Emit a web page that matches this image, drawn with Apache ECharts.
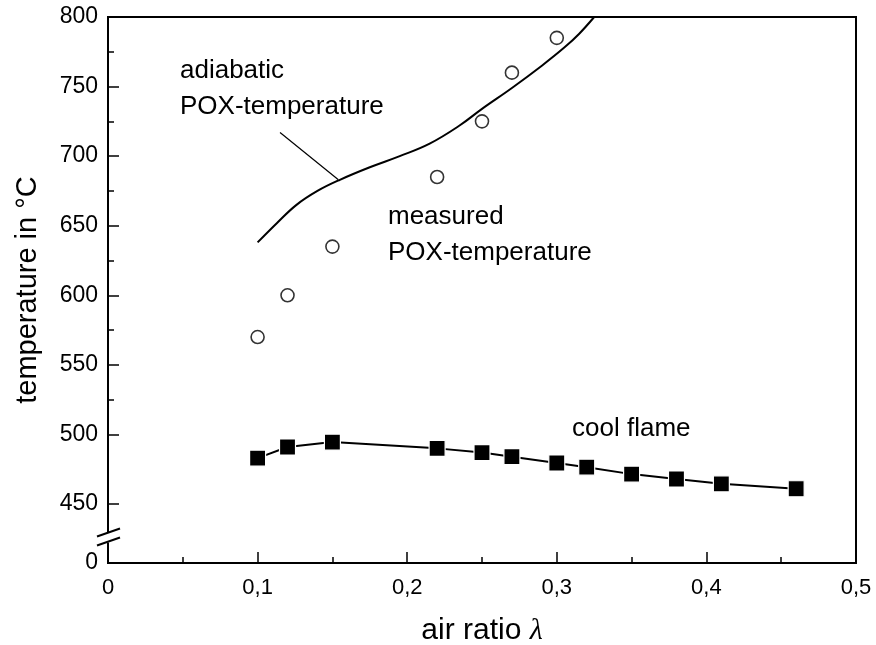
<!DOCTYPE html>
<html>
<head>
<meta charset="utf-8">
<script src="https://cdn.jsdelivr.net/npm/echarts@6/dist/echarts.min.js"></script>
<style>html,body{margin:0;padding:0;background:#fff}#c{width:876px;height:645px}</style>
</head>
<body>
<div id="c"></div>
<script>
// adiabatic POX-temperature (calculated curve)
const adiabaticX = [0.1, 0.113, 0.126, 0.14, 0.155, 0.175, 0.195, 0.215, 0.235, 0.25, 0.27, 0.29, 0.305, 0.315, 0.325];
const adiabaticY = [638, 652, 665, 675, 683, 692, 700, 709, 722, 734, 749, 765, 778, 788, 800];
// measured POX-temperature
const measuredX = [0.1, 0.12, 0.15, 0.22, 0.25, 0.27, 0.3];
const measuredY = [570, 600, 635, 685, 725, 760, 785];
// cool flame
const coolX = [0.1, 0.12, 0.15, 0.22, 0.25, 0.27, 0.3, 0.32, 0.35, 0.38, 0.41, 0.46];
const coolY = [483, 491, 494.5, 490, 487, 484, 479.5, 476.5, 471.5, 468, 464.5, 461];
// leader line from label to curve
const leaderX = [0.115, 0.154];
const leaderY = [717, 683];
// axis ticks
const xTicks = [0, 0.1, 0.2, 0.3, 0.4, 0.5];
const yTicks = [0, 450, 500, 550, 600, 650, 700, 750, 800];

const FONT = "'Liberation Sans', Arial, sans-serif";
const zip = (xs, ys) => xs.map((x, i) => [x, ys[i]]);

const chart = echarts.init(document.getElementById('c'), null, {renderer: 'canvas'});
const option = {
  animation: false,
  backgroundColor: '#fff',
  grid: {left: 108, right: 20, top: 17, bottom: 82, outerBoundsMode: 'none', containLabel: false,
    show: true, borderColor: '#000', borderWidth: 2, backgroundColor: 'transparent'},
  xAxis: {
    type: 'value', min: 0, max: 0.5, interval: 0.1,
    axisLine: {show: true, lineStyle: {color: '#000', width: 2}},
    axisTick: {show: true, inside: true, length: 11, lineStyle: {color: '#000', width: 1.5}},
    minorTick: {show: true, splitNumber: 2, length: 6, lineStyle: {color: '#000', width: 1.5}},
    splitLine: {show: false},
    axisLabel: {color: '#000', fontSize: 22, fontFamily: FONT, margin: 14,
      formatter: v => xTicks.some(t => Math.abs(t - v) < 1e-9) ? String(+v.toFixed(2)).replace('.', ',') : ''},
    name: 'air ratio {i|λ}',
    nameLocation: 'middle', nameGap: 53,
    nameTextStyle: {color: '#000', fontSize: 30, fontFamily: FONT,
      rich: {i: {fontSize: 30, fontStyle: 'italic', fontFamily: "'Liberation Serif', serif", color: '#000'}}}
  },
  yAxis: {
    type: 'value', min: 0, max: 800, interval: 50,
    breaks: [{start: 0, end: 450, gap: '10.8%'}],
    breakArea: {show: false},
    axisLine: {show: true, lineStyle: {color: '#000', width: 2}},
    axisTick: {show: true, inside: true, length: 11, lineStyle: {color: '#000', width: 1.5}},
    minorTick: {show: true, splitNumber: 2, length: 6, lineStyle: {color: '#000', width: 1.5}},
    splitLine: {show: false},
    axisLabel: {color: '#000', fontSize: 23, fontFamily: FONT, margin: 10,
      formatter: v => yTicks.includes(Math.round(v)) ? String(Math.round(v)) : ''},
    name: 'temperature in °C',
    nameLocation: 'middle', nameGap: 66,
    nameTextStyle: {color: '#000', fontSize: 29, fontFamily: FONT}
  },
  series: [
    {type: 'line', data: zip(adiabaticX, adiabaticY), smooth: 0.4, showSymbol: false, symbol: 'none',
      lineStyle: {color: '#000', width: 2}, z: 3},
    {type: 'line', data: zip(leaderX, leaderY), showSymbol: false, symbol: 'none',
      lineStyle: {color: '#000', width: 1.2}, z: 3},
    {type: 'scatter', data: zip(measuredX, measuredY), symbol: 'circle', symbolSize: 13,
      itemStyle: {color: '#fff', borderColor: '#000', borderWidth: 1.6}, z: 4},
    {type: 'line', data: zip(coolX, coolY), symbol: 'rect', symbolSize: 16, showSymbol: true,
      lineStyle: {color: '#000', width: 2}, itemStyle: {color: '#000', borderColor: '#fff', borderWidth: 1.2}, z: 4}
  ],
  graphic: [
    {type: 'text', left: 180, top: 58, style: {text: 'adiabatic', fill: '#000', font: '26px ' + FONT}},
    {type: 'text', left: 180, top: 94, style: {text: 'POX-temperature', fill: '#000', font: '26px ' + FONT}},
    {type: 'text', left: 388, top: 204, style: {text: 'measured', fill: '#000', font: '26px ' + FONT}},
    {type: 'text', left: 388, top: 240, style: {text: 'POX-temperature', fill: '#000', font: '26px ' + FONT}},
    {type: 'text', left: 572, top: 416, style: {text: 'cool flame', fill: '#000', font: '26px ' + FONT}}
  ]
};
chart.setOption(option);

// axis-break slashes on the y axis line
const y0 = chart.convertToPixel({yAxisIndex: 0}, 0);
const y450 = chart.convertToPixel({yAxisIndex: 0}, 450);
const xAx = chart.convertToPixel({xAxisIndex: 0}, 0);
const mid = (y0 + y450) / 2 + 5;
chart.setOption({graphic: option.graphic.concat([
  {type: 'rect', shape: {x: xAx - 3, y: mid - 6, width: 6, height: 10}, style: {fill: '#fff'}, z: 100},
  {type: 'line', shape: {x1: xAx - 11, y1: mid - 2, x2: xAx + 12, y2: mid - 10}, style: {stroke: '#000', lineWidth: 2}, z: 101},
  {type: 'line', shape: {x1: xAx - 11, y1: mid + 7, x2: xAx + 12, y2: mid - 1}, style: {stroke: '#000', lineWidth: 2}, z: 101}
])});
</script>
</body>
</html>
